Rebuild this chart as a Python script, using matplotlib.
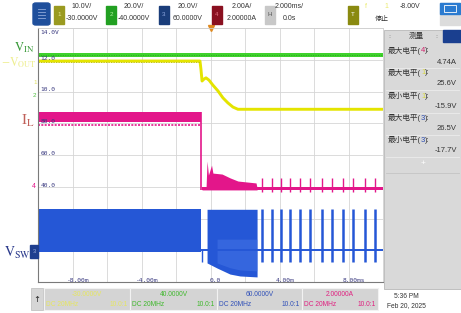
import matplotlib
matplotlib.use('Agg')
import matplotlib.pyplot as plt
from matplotlib.patches import Rectangle, FancyBboxPatch

plt.rcParams['font.family'] = ['Liberation Sans', 'Noto Sans CJK SC', 'DejaVu Sans']
plt.rcParams['mathtext.fontset'] = 'stix'

W, H = 461, 313

# ---- data: time in ms, vertical position in scope divisions (0 bottom .. 8 top)
t_drop = -0.55

# VIN (green) ripple band
vin_lo, vin_hi = 7.09, 7.21

# VOUT (yellow)
vout_t = [-10, -0.61, -0.55, -0.49, -0.38, -0.26, -0.09, 0.14, 0.43, 0.72, 1.01, 1.30, 1.59, 10]
vout_y = [6.96, 6.96, 6.68, 6.33, 6.39, 6.43, 6.36, 6.20, 6.02, 5.80, 5.64, 5.51, 5.44, 5.44]

# IL (pink)
il_pre_lo, il_pre_hi = 5.04, 5.35
il_post_t = [-0.49, -0.26, -0.20, -0.12, 0.06, 0.14, 0.67, 1.13, 1.59, 2.64, 2.70]
il_post_hi = [2.93, 2.93, 3.81, 3.37, 3.68, 3.43, 3.40, 3.28, 3.18, 3.12, 2.96]
il_base_lo, il_base_hi = 2.90, 3.00
il_spike_hi = 3.28

# VSW (blue)
sw_hi, sw_lo, sw_base = 2.29, 0.94, 1.01
sw_post_t = [-0.20, 0.38, 1.13, 1.71, 2.70]
sw_post_lo = [0.60, 0.44, 0.25, 0.19, 0.16]
sw_pulse_lo = 0.63

# burst pulses after soft restart
burst_t = [2.97, 3.55, 4.09, 4.61, 5.19, 5.77, 6.45, 7.03, 7.70, 8.28, 8.96, 9.54]

# axis labels
ylab_div = [7.85, 7.05, 6.05, 5.05, 4.05, 3.05]
ylab_txt = ['14.0V', '12.0', '10.0', '80.0', '60.0', '40.0']
xlab_t = [-8, -4, 0, 4, 8]
xlab_txt = ['-8.00m', '-4.00m', '0.0', '4.00m', '8.00ms']

# measurement panel
meas_names = ['最大电平(', '最大电平(', '最小电平(', '最大电平(', '最小电平(']
meas_ch = ['4', '1', '1', '3', '3']
meas_vals = ['4.74A', '25.6V', '-15.9V', '26.5V', '-17.7V']

GREEN = '#3fd22c'
YELLOW = '#e4e400'
PINK = '#e3168a'
BLUE = '#2557d6'
NAVY = '#1f3f8f'
CH_COL = {'1': '#d8d840', '2': '#3fae2c', '3': '#2a4bb0', '4': '#d0206a'}


def fx(x):
    return x / W


def fy(y):
    return 1 - y / H


fig = plt.figure(figsize=(W / 100, H / 100), dpi=100)
fig.patch.set_facecolor('white')

# ---- main scope grid
ax = fig.add_axes([fx(38), fy(282), 345 / W, 254 / H])
ax.set_xlim(-10, 10)
ax.set_ylim(0, 8)
ax.set_xticks(range(-10, 11, 2))
ax.set_yticks(range(0, 9))
ax.grid(True, color='#d6d6d6', lw=0.6)
ax.tick_params(length=0, labelbottom=False, labelleft=False)
for s in ['top', 'right']:
    ax.spines[s].set_color('#cfcfcf')
    ax.spines[s].set_linewidth(0.6)
for s in ['left', 'bottom']:
    ax.spines[s].set_color('#7a7a7a')
    ax.spines[s].set_linewidth(0.8)
ax.set_axisbelow(True)

# VSW
ax.fill_between([-10, t_drop], sw_lo, sw_hi, color=BLUE, lw=0)
ax.plot([-10, 10], [sw_base, sw_base], color=BLUE, lw=1.4)
ax.vlines(-0.49, sw_pulse_lo, sw_base, color=BLUE, lw=1.0)
ax.fill_between(sw_post_t, sw_post_lo, sw_hi, color=BLUE, lw=0)
ax.fill_between(sw_post_t[1:], [0.6, 0.45, 0.38, 0.35], 1.35, color='#4a7ae8', lw=0, alpha=0.45)
ax.vlines(burst_t, sw_pulse_lo, sw_hi, color=BLUE, lw=1.8)

# IL
ax.fill_between([-10, t_drop], il_pre_lo, il_pre_hi, color=PINK, lw=0)
ax.plot([-10, t_drop], [4.96, 4.96], color=PINK, lw=1.2, dashes=(1.2, 0.8))
ax.vlines(t_drop, il_base_lo, il_pre_hi, color=PINK, lw=1.2)
ax.fill_between(il_post_t, il_base_lo, il_post_hi, color=PINK, lw=0)
ax.fill_between([-0.49, 10], il_base_lo, il_base_hi, color=PINK, lw=0)
ax.vlines(burst_t, 2.84, il_spike_hi, color=PINK, lw=1.0)

# VOUT
ax.plot(vout_t, vout_y, color=YELLOW, lw=2.1, solid_joinstyle='round')
ax.plot([-10, -0.61], [6.93, 6.93], color='#b8b800', lw=0.6, dashes=(1.5, 1.5))

# VIN
ax.fill_between([-10, 10], vin_lo, vin_hi, color=GREEN, lw=0)
ax.plot([-10, 10], [7.15, 7.15], color='#2a9a20', lw=0.5, dashes=(1.5, 2))

# trigger marker
ax.plot([0], [8], marker='v', color='#e08a20', ms=4, clip_on=False)

for d, s in zip(ylab_div, ylab_txt):
    ax.text(-9.85, d, s, color='#3a3a80', fontsize=4.5, family='DejaVu Sans Mono', va='center', ha='left')
for t, s in zip(xlab_t, xlab_txt):
    ax.text(t + 0.3, 0.06, s, color='#3a3a80', fontsize=4.5, family='DejaVu Sans Mono', va='center', ha='center')

# ---- trace names on the left
fig.text(fx(24), fy(48), r'$\mathrm{V_{IN}}$', color='#3a9a3a', fontsize=9, ha='center', va='center')
fig.text(fx(1), fy(63), r'$\mathrm{-V_{OUT}}$', color='#eeee90', fontsize=8.5, ha='left', va='center')
fig.text(fx(28), fy(121), r'$\mathrm{I_{L}}$', color='#c0605a', fontsize=11, ha='center', va='center')
fig.text(fx(17), fy(253), r'$\mathrm{V_{SW}}$', color='#2b3a8c', fontsize=10, ha='center', va='center')

# channel ground markers
fig.patches.append(Rectangle((fx(30), fy(258)), 8 / W, 13 / H, transform=fig.transFigure, color=NAVY))
fig.text(fx(34), fy(251.5), '3', color='#9fb0e0', fontsize=4, ha='center', va='center')
fig.text(fx(34), fy(186), '4', color=PINK, fontsize=5, ha='center', va='center')
fig.text(fx(35), fy(83), '1', color='#e0e060', fontsize=4.5, ha='center', va='center')
fig.text(fx(34), fy(95), '2', color='#50c040', fontsize=4.5, ha='center', va='center')

# ---- top bar
fig.patches.append(FancyBboxPatch((fx(33), fy(25)), 17 / W, 22 / H, boxstyle='round,pad=0,rounding_size=0.006',
                                  transform=fig.transFigure, color='#1f4f9c'))
for yy in [9, 12, 15, 18]:
    fig.lines.append(plt.Line2D([fx(38), fx(45)], [fy(yy), fy(yy)], transform=fig.transFigure, color='#8fa8d8', lw=0.6))

top_boxes = [(54, '1', '#9a9a20', '#e8e890'), (106, '2', '#22a022', '#b0f0a0'),
             (159, '3', '#1a3d7a', '#8fa8e0'), (212, '4', '#8a1020', '#e07080'),
             (265, 'H', '#c8c8c8', '#555555'), (348, 'T', '#8a8a10', '#ffffff')]
for x0, lab, fc, tc in top_boxes:
    fig.patches.append(Rectangle((fx(x0), fy(24)), 10 / W, 18 / H, transform=fig.transFigure, color=fc))
    fig.text(fx(x0 + 5), fy(15), lab, color=tc, fontsize=4.5, ha='center', va='center')

top_txt = [(82, '10.0V/', '-30.0000V'), (134, '20.0V/', '-40.0000V'), (188, '20.0V/', '60.0000V'),
           (242, '2.00A/', '2.00000A'), (289, '2.000ms/', '0.0s')]
for x0, a, b in top_txt:
    fig.text(fx(x0), fy(7), a, color='#333333', fontsize=5, ha='center', va='center')
    fig.text(fx(x0), fy(19), b, color='#333333', fontsize=5, ha='center', va='center')
fig.text(fx(366), fy(7), 'f', color='#eaea70', fontsize=5, ha='center', va='center')
fig.text(fx(386), fy(7), '1', color='#eaea70', fontsize=5, ha='center', va='center')
fig.text(fx(410), fy(7), '-8.00V', color='#333333', fontsize=5, ha='center', va='center')
fig.text(fx(382), fy(19), '停止', color='#333333', fontsize=5, ha='center', va='center')

fig.patches.append(Rectangle((fx(440), fy(25)), 20 / W, 22 / H, transform=fig.transFigure, color='#dcdcdc'))
fig.patches.append(Rectangle((fx(440), fy(14)), 20 / W, 11 / H, transform=fig.transFigure, color='#2b7bd0'))
fig.patches.append(Rectangle((fx(444), fy(12)), 12 / W, 7 / H, transform=fig.transFigure, fill=False,
                             ec='white', lw=0.6))

# ---- measurement panel
fig.patches.append(Rectangle((fx(384), fy(289)), 77 / W, 259 / H, transform=fig.transFigure,
                             fc='#d9d9d9', ec='#b8b8b8', lw=0.6))
fig.patches.append(Rectangle((fx(443), fy(42)), 18 / W, 12 / H, transform=fig.transFigure, color='#1a3f8f'))
fig.text(fx(416), fy(36), '测量', color='#333333', fontsize=5.5, ha='center', va='center')
fig.text(fx(390), fy(36), '::', color='#888888', fontsize=4, ha='center', va='center')
fig.text(fx(437), fy(36), '::', color='#888888', fontsize=4, ha='center', va='center')

renderer = fig.canvas.get_renderer()
row_y = [51, 73, 96, 118, 140]
for i in range(len(meas_names)):
    y0 = row_y[i]
    x = 388
    for s, c in [(meas_names[i], '#333333'), (meas_ch[i], CH_COL[meas_ch[i]]), ('):', '#333333')]:
        tt = fig.text(fx(x), fy(y0), s, color=c, fontsize=5.5, ha='left', va='center')
        x += tt.get_window_extent(renderer=renderer).width
    fig.text(fx(457), fy(y0 + 11), meas_vals[i], color='#333333', fontsize=5.5, ha='right', va='center')
    fig.lines.append(plt.Line2D([fx(386), fx(459)], [fy(y0 + 17), fy(y0 + 17)], transform=fig.transFigure,
                                color='#ececec', lw=0.6))
fig.text(fx(423), fy(163), '+', color='white', fontsize=6, ha='center', va='center')
fig.lines.append(plt.Line2D([fx(386), fx(459)], [fy(173), fy(173)], transform=fig.transFigure,
                            color='#c4c4c4', lw=0.6))

# ---- bottom channel bar
fig.patches.append(Rectangle((fx(31), fy(310)), 12 / W, 22 / H, transform=fig.transFigure,
                             fc='#d6d6d6', ec='#bcbcbc', lw=0.5))
fig.text(fx(37), fy(299), '↑', color='#222222', fontsize=6, ha='center', va='center', family='DejaVu Sans')
cells = [(44, 130, '-30.0000V', '#e6e660'), (130, 217, '40.0000V', '#3fb82c'),
         (217, 302, '60.0000V', '#3050b8'), (302, 378, '2.00000A', '#e0207f')]
for x0, x1, lab, c in cells:
    fig.patches.append(Rectangle((fx(x0), fy(310)), (x1 - x0) / W, 22 / H, transform=fig.transFigure,
                                 fc='#d4d4d4', ec='#f2f2f2', lw=0.8))
    fig.text(fx((x0 + x1) / 2), fy(294), lab, color=c, fontsize=4.8, ha='center', va='center')
    fig.text(fx(x0 + 2), fy(305), 'DC 20MHz', color=c, fontsize=4.8, ha='left', va='center')
    fig.text(fx(x1 - 2), fy(305), '10.0:1', color=c, fontsize=4.8, ha='right', va='center')
fig.text(fx(406), fy(296), '5:36 PM', color='#333333', fontsize=4.8, ha='center', va='center')
fig.text(fx(406), fy(306), 'Feb 20, 2025', color='#333333', fontsize=4.8, ha='center', va='center')

fig.savefig('out.png', dpi=100)
